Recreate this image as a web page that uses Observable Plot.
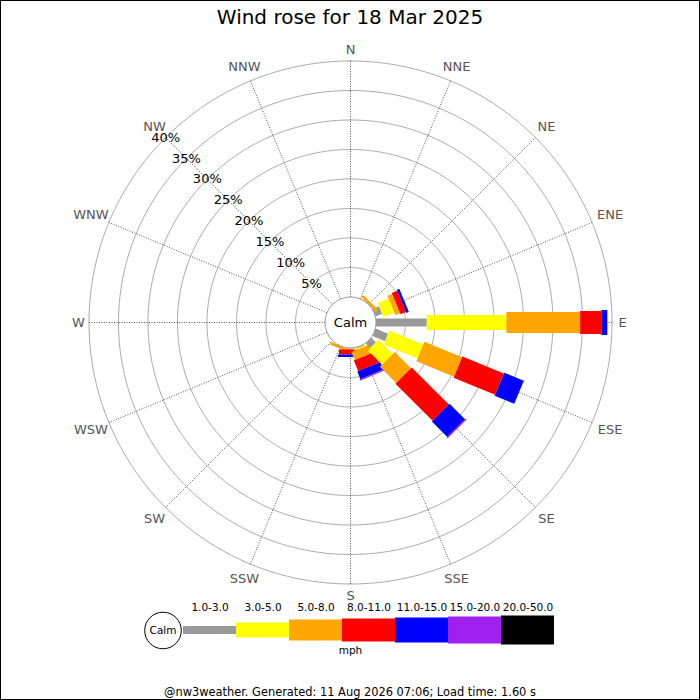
<!DOCTYPE html>
<html>
<head>
<meta charset="utf-8">
<script src="https://cdn.jsdelivr.net/npm/d3@7"></script>
<script src="https://cdn.jsdelivr.net/npm/@observablehq/plot@0.6"></script>
<style>
  html, body { margin: 0; padding: 0; background: white; }
  #wrap { position: relative; width: 700px; height: 700px; overflow: hidden; background: white; font-family: "DejaVu Sans", sans-serif; }
  #border { position: absolute; left: 0; top: 0; width: 700px; height: 700px; box-sizing: border-box; border: 1px solid black; pointer-events: none; }
  #title { height: 34px; line-height: 34px; text-align: center; font-size: 20px; color: black; }
  #footer { height: 40px; box-sizing: border-box; padding-top: 26px; line-height: 13px; text-align: center; font-size: 11.4px; color: black; }
  svg { display: block; }
</style>
</head>
<body>
<div id="wrap">
  <div id="title">Wind rose for 18 Mar 2025</div>
  <div id="main"></div>
  <div id="legend"></div>
  <div id="footer">@nw3weather. Generated: 11 Aug 2026 07:06; Load time: 1.60 s</div>
  <div id="border"></div>
</div>
<script>
// ---------- data ----------
const directions = ["N","NNE","NE","ENE","E","ESE","SE","SSE","S","SSW","SW","WSW","W","WNW","NW","NNW"];
const speedClasses = ["1.0-3.0","3.0-5.0","5.0-8.0","8.0-11.0","11.0-15.0","15.0-20.0","20.0-50.0"];
const percentTicks = [5, 10, 15, 20, 25, 30, 35, 40];
// percentage of time per direction, for each speed class (mph)
const speed1to3   = [0, 0, 0,   1.2,  8.6, 2.3, 1.1, 0.15, 0.1,  0,    0, 0, 0, 0, 0, 0];
const speed3to5   = [0, 0, 0,   2.0, 13.5, 6.2, 3.4, 0.2,  0.05, 0,    0, 0, 0, 0, 0, 0];
const speed5to8   = [0, 0, 0.5, 0.85,12.5, 6.9, 3.9, 1.5,  0.1,  0.45, 0, 0, 0, 0, 0, 0];
const speed8to11  = [0, 0, 0,   1.0,  3.6, 7.6, 8.9, 1.95, 0.85, 0,    0, 0, 0, 0, 0, 0];
const speed11to15 = [0, 0, 0,   0.45, 1.0, 3.6, 3.7, 1.4,  0.43, 0,    0, 0, 0, 0, 0, 0];
const speed15to20 = [0, 0, 0,   0,    0,   0,   0.2, 0.2,  0,    0,    0, 0, 0, 0, 0, 0];
const speed20to50 = [0, 0, 0,   0,    0,   0,   0,   0,    0,    0,    0, 0, 0, 0, 0, 0];
const series = [speed1to3, speed3to5, speed5to8, speed8to11, speed11to15, speed15to20, speed20to50];

// ---------- styles ----------
const classColors = ["#999999", "#ffff00", "#ffa500", "#ff0000", "#0000ff", "#a020f0", "#000000"];
const classWidths = [8, 15, 21, 23, 25, 27, 29];

// ---------- geometry ----------
const W = 700, H = 566, CX = 350, CY = 288;
const k = 5.9;            // pixels per percent
const calmR = 25.5;       // calm circle radius in pixels
const r0 = calmR / k;     // calm radius in percent units
const maxPct = d3.max(percentTicks);
const rad = (i) => i * 22.5 * Math.PI / 180;
const px = (r, a) => r * Math.sin(a);
const py = (r, a) => r * Math.cos(a);
const labelR = (d, i) => (268 + 4 * d.length * Math.abs(Math.sin(rad(i))) + 5 * Math.abs(Math.cos(rad(i)))) / k;

// segments (cumulative along each direction)
const segments = [];
directions.forEach((dir, i) => {
  let cum = 0;
  series.forEach((s, j) => {
    const v = s[i];
    if (v > 0) segments.push({i, j, start: cum, end: cum + v});
    cum += v;
  });
});
// draw counter-clockwise order
segments.sort((a, b) => b.i - a.i || a.j - b.j);

const ringPts = percentTicks.flatMap(p => d3.range(0, 361, 1).map(deg => ({p, a: deg * Math.PI / 180})));

const main = Plot.plot({
  width: W, height: H, margin: 0,
  x: {domain: [-CX / k, (W - CX) / k], range: [0, W], axis: null},
  y: {domain: [-(H - CY) / k, CY / k], range: [H, 0], axis: null},
  color: {type: "identity"},
  style: {fontFamily: "DejaVu Sans", background: "white", overflow: "visible"},
  marks: [
    Plot.line(ringPts, {x: d => px(r0 + d.p, d.a), y: d => py(r0 + d.p, d.a), z: "p", stroke: "#aaaaaa", strokeWidth: 1}),
    Plot.link(directions, {
      x1: (d, i) => px(r0, rad(i)), y1: (d, i) => py(r0, rad(i)),
      x2: (d, i) => px(r0 + maxPct, rad(i)), y2: (d, i) => py(r0 + maxPct, rad(i)),
      stroke: "#555555", strokeWidth: 1, strokeDasharray: "1,1.5"
    }),
    Plot.link(segments, {
      x1: d => px(r0 + d.start, rad(d.i)), y1: d => py(r0 + d.start, rad(d.i)),
      x2: d => px(r0 + d.end, rad(d.i)), y2: d => py(r0 + d.end, rad(d.i)),
      stroke: d => classColors[d.j], strokeWidth: d => classWidths[d.j], strokeOpacity: 1
    }),
    Plot.dot([0], {x: () => 0, y: () => 0, r: calmR, fill: "white", stroke: "#999999", strokeWidth: 1}),
    Plot.text(["Calm"], {x: () => 0, y: () => 0, text: d => d, fontSize: 13, fill: "black"}),
    Plot.text(percentTicks, {
      x: d => px(r0 + d, rad(14)), y: d => py(r0 + d, rad(14)),
      text: d => d + "%", fontSize: 13, fill: "black"
    }),
    Plot.text(directions, {
      x: (d, i) => px(labelR(d, i), rad(i)),
      y: (d, i) => py(labelR(d, i), rad(i)),
      text: d => d, fontSize: 13, fill: "#555555"
    })
  ]
});
document.getElementById("main").appendChild(main);

// ---------- legend ----------
const legendData = speedClasses.map((label, j) => ({label, color: classColors[j], h: classWidths[j]}));
const legend = Plot.plot({
  width: 700, height: 60, margin: 0,
  x: {type: "band", domain: speedClasses, range: [180.7, 556], padding: 0, axis: null},
  y: {domain: [-30, 30], range: [60, 0], axis: null},
  color: {type: "identity"},
  style: {fontFamily: "DejaVu Sans", background: "white", overflow: "visible"},
  marks: [
    Plot.barY(legendData, {x: "label", y1: d => -d.h / 2, y2: d => d.h / 2, fill: "color", inset: 0}),
    Plot.text(legendData, {x: "label", y: () => 0, dy: -23.3, text: "label", fontSize: 10.5, fill: "black"}),
    Plot.dot(["Calm"], {frameAnchor: "left", dx: 162.5, r: 18.3, fill: "white", stroke: "black", strokeWidth: 1}),
    Plot.text(["Calm"], {frameAnchor: "left", dx: 162.5, textAnchor: "middle", text: d => d, fontSize: 10.5, fill: "black"}),
    Plot.text(["mph"], {frameAnchor: "bottom", dy: -6.7, text: d => d, fontSize: 10.5, fill: "black"})
  ]
});
document.getElementById("legend").appendChild(legend);
</script>
</body>
</html>
